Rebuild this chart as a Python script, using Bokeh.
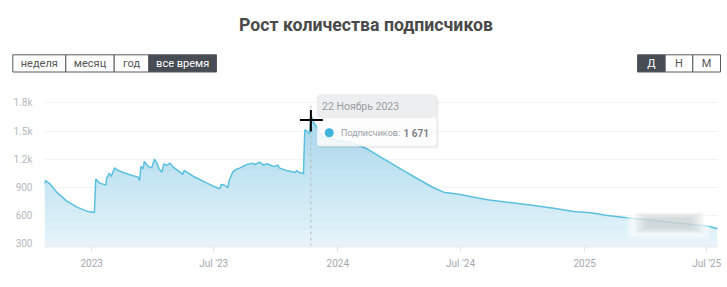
import datetime as dt
import numpy as np
from bokeh.plotting import figure
from bokeh.layouts import column
from bokeh.models import Range1d, FixedTicker, Label, BoxAnnotation
from bokeh.core.properties import value
from bokeh.embed import file_html
from bokeh.resources import INLINE

# ---------------- data ----------------
title_text = "Рост количества подписчиков"
period_buttons = ["неделя", "месяц", "год", "все время"]
period_active = "все время"
step_buttons = ["Д", "Н", "М"]
step_active = "Д"

dates = [
    "2022-10-23", "2022-10-24", "2022-10-31", "2022-11-10", "2022-11-25", "2022-12-10", "2022-12-25",
    "2023-01-05", "2023-01-07", "2023-01-13", "2023-01-22", "2023-01-23", "2023-01-27", "2023-01-30",
    "2023-02-04", "2023-02-07", "2023-02-17", "2023-03-01", "2023-03-11", "2023-03-13", "2023-03-15",
    "2023-03-18", "2023-03-20", "2023-03-26", "2023-03-31", "2023-04-04", "2023-04-07", "2023-04-11",
    "2023-04-15", "2023-04-18", "2023-04-22", "2023-04-27", "2023-05-02", "2023-05-10", "2023-05-16",
    "2023-05-18", "2023-05-22", "2023-06-01", "2023-06-11", "2023-06-21", "2023-07-01", "2023-07-10",
    "2023-07-12", "2023-07-16", "2023-07-22", "2023-07-24", "2023-07-26", "2023-07-29", "2023-08-02",
    "2023-08-09", "2023-08-19", "2023-08-27", "2023-08-31", "2023-09-07", "2023-09-13", "2023-09-18",
    "2023-09-25", "2023-09-30", "2023-10-04", "2023-10-06", "2023-10-17", "2023-10-30", "2023-11-01",
    "2023-11-04", "2023-11-11", "2023-11-13", "2023-11-16", "2023-11-20", "2023-11-22", "2023-11-26",
    "2023-12-01", "2023-12-07", "2023-12-26", "2024-01-20", "2024-02-13", "2024-03-09", "2024-04-03",
    "2024-04-28", "2024-05-22", "2024-06-06", "2024-07-01", "2024-07-21", "2024-08-10", "2024-09-08",
    "2024-10-18", "2024-11-16", "2024-12-16", "2025-01-10", "2025-02-04", "2025-03-05", "2025-05-01",
    "2025-07-04", "2025-07-17",
]
subscribers = [
    931, 974, 938, 850, 754, 690, 647,
    633, 988, 945, 924, 991, 1052, 1016,
    1108, 1087, 1059, 1030, 1009, 974, 1123,
    1098, 1176, 1123, 1108, 1200, 1169, 1098,
    1062, 1151, 1133, 1158, 1115, 1073, 1038,
    1080, 1062, 1016, 981, 945, 910, 885,
    931, 928, 896, 981, 1009, 1062, 1087,
    1108, 1144, 1158, 1144, 1169, 1137, 1151,
    1130, 1123, 1140, 1108, 1080, 1059, 1080,
    1062, 1045, 1513, 1499, 1470, 1671, 1590,
    1540, 1450, 1407, 1381, 1311, 1204, 1098,
    992, 896, 849, 824, 796, 768, 743,
    708, 679, 644, 630, 601, 577, 535,
    487, 460,
]
hover_date = "2023-11-22"
hover_series_name = "Подписчиков:"
months_ru = ["Январь", "Февраль", "Март", "Апрель", "Май", "Июнь", "Июль",
             "Август", "Сентябрь", "Октябрь", "Ноябрь", "Декабрь"]

x_tick_dates = ["2023-01-01", "2023-07-01", "2024-01-01", "2024-07-01", "2025-01-01", "2025-07-01"]
x_tick_labels = ["2023", "Jul '23", "2024", "Jul '24", "2025", "Jul '25"]
y_ticks = [300, 600, 900, 1200, 1500, 1800]
y_tick_labels = ["300", "600", "900", "1.2k", "1.5k", "1.8k"]


def ms(s):
    return (dt.datetime.fromisoformat(s) - dt.datetime(1970, 1, 1)).total_seconds() * 1000.0


# ---------------- layout constants ----------------
W = 727
H_HEAD = 90
H_CHART = 197
FL, FR, FT, FB = 44, 10, 0, 41
X0, X1 = ms("2022-10-23"), ms("2025-07-17")
Y0, Y1 = 271, 1931
FONT = "Roboto"

frame_w = W - FL - FR
frame_h = H_CHART - FT - FB


def sx(px):
    # page px -> data x (same affine map as the chart's x scale)
    return X0 + (px - FL) / frame_w * (X1 - X0)


def sy(py):
    return Y1 - (py - H_HEAD - FT) / frame_h * (Y1 - Y0)


# ---------------- header ----------------
h = figure(width=W, height=H_HEAD, x_range=Range1d(0, W), y_range=Range1d(H_HEAD, 0),
           output_backend="svg", toolbar_location=None, min_border=0,
           x_axis_location=None, y_axis_location=None)
h.frame_align = False
h.grid.visible = False
h.outline_line_color = None
h.background_fill_color = "white"
h.border_fill_color = "white"

h.text(x=[W / 2 + 2], y=[24], text=[title_text], text_font=value(FONT), text_font_size="17.7px",
       text_font_style="bold", text_color="#4a4a4a", text_align="center", text_baseline="middle")

btn_top, btn_bot = 54.3, 71.5
left_edges = [12.3, 65.3, 113.7, 148.3, 216]
right_edges = [637, 664.7, 692.3, 720]
DARK = "#474c55"


def buttons(labels, edges, active):
    lefts = edges[:-1]
    rights = edges[1:]
    fills = [DARK if l == active else "white" for l in labels]
    tcols = ["white" if l == active else "#555555" for l in labels]
    h.quad(left=lefts, right=rights, top=[btn_top] * len(labels), bottom=[btn_bot] * len(labels),
           fill_color=fills, line_color="#55595f", line_width=1)
    h.text(x=[(a + b) / 2 for a, b in zip(lefts, rights)], y=[(btn_top + btn_bot) / 2 + 0.5] * len(labels),
           text=labels, text_font=value(FONT), text_font_size="11px", text_color=tcols,
           text_align="center", text_baseline="middle")


buttons(period_buttons, left_edges, period_active)
buttons(step_buttons, right_edges, step_active)

# ---------------- chart ----------------
p = figure(width=W, height=H_CHART, x_axis_type="datetime",
           x_range=Range1d(X0, X1), y_range=Range1d(Y0, Y1),
           output_backend="svg", toolbar_location=None,
           min_border_left=FL, min_border_right=FR, min_border_top=FT, min_border_bottom=FB)
p.frame_align = False
p.outline_line_color = None
p.background_fill_color = "white"
p.border_fill_color = "white"

xs = [ms(d) for d in dates]
vals = np.array(subscribers, dtype=float)

LINE = "#5bc0de"
p.varea(x=xs, y1=[Y0] * len(xs), y2=vals, fill_color="#e6f4fa")
N = 16
for k in range(N):
    L = Y0 + (1700 - Y0) * (k + 1) / N
    p.varea(x=xs, y1=[L] * len(xs), y2=np.maximum(vals, L), fill_color=LINE, fill_alpha=0.026)
p.line(x=xs, y=vals, line_color=LINE, line_width=1.5)

# axes
p.xaxis.ticker = FixedTicker(ticks=[ms(d) for d in x_tick_dates])
p.xaxis.major_label_overrides = {ms(d): l for d, l in zip(x_tick_dates, x_tick_labels)}
p.xaxis.axis_line_color = "#eceeef"
p.xaxis.axis_line_width = 2
p.xaxis.major_tick_line_color = "#e0e2e4"
p.xaxis.major_tick_in = 0
p.xaxis.major_tick_out = 5
p.xaxis.minor_tick_line_color = None
p.xaxis.major_label_text_font = FONT
p.xaxis.major_label_text_font_size = "10px"
p.xaxis.major_label_text_color = "#a3a8ae"
p.xaxis.major_label_standoff = 6

p.yaxis.ticker = FixedTicker(ticks=y_ticks)
p.yaxis.major_label_overrides = {t: l for t, l in zip(y_ticks, y_tick_labels)}
p.yaxis.axis_line_color = None
p.yaxis.major_tick_line_color = None
p.yaxis.minor_tick_line_color = None
p.yaxis.major_label_text_font = FONT
p.yaxis.major_label_text_font_size = "10px"
p.yaxis.major_label_text_color = "#b5b9be"
p.yaxis.major_label_standoff = 6

p.xgrid.grid_line_color = None
p.ygrid.ticker = FixedTicker(ticks=y_ticks)
p.ygrid.grid_line_color = "#f2f3f4"

# hover line
hx = ms(hover_date)
hv = subscribers[dates.index(hover_date)]
p.segment(x0=[hx], y0=[Y0], x1=[hx], y1=[y_ticks[-1]], line_color="#b8bcc0",
          line_dash="3 3", line_width=1)

# blurred watermark blob (soft edges)
for i in range(5):
    p.quad(left=[sx(626 + i * 1.5)], right=[sx(710 - i * 1.5)], top=[sy(206 + i * 1.2)],
           bottom=[sy(238 - i * 1.2)], fill_color="white", fill_alpha=0.22, line_color=None)
for i in range(7):
    p.quad(left=[sx(634 + i * 2.2)], right=[sx(704 - i * 2.2)], top=[sy(212 + i * 0.9)],
           bottom=[sy(233 - i * 0.9)], fill_color="#aab3b8", fill_alpha=0.08, line_color=None)

# tooltip
tl, tr, tt, tb, tsep = 316.7, 436, 94.3, 145.7, 117.3
p.add_layout(BoxAnnotation(left=sx(tl + 1), right=sx(tr + 2), top=sy(tt + 2), bottom=sy(tb + 2),
                           fill_color="black", fill_alpha=0.07, line_color=None, border_radius=3))
p.add_layout(BoxAnnotation(left=sx(tl), right=sx(tr), top=sy(tt), bottom=sy(tb),
                           fill_color="white", fill_alpha=0.85, line_color="#e4e6e8",
                           line_width=1, border_radius=3))
p.add_layout(BoxAnnotation(left=sx(tl), right=sx(tr), top=sy(tt), bottom=sy(tsep),
                           fill_color="#eceeef", fill_alpha=1.0, line_color="#e4e6e8",
                           line_width=1, border_radius=3))
hd = dt.date.fromisoformat(hover_date)
date_text = f"{hd.day} {months_ru[hd.month - 1]} {hd.year}"
p.add_layout(Label(x=sx(321.5), y=sy(105.5), text=date_text, text_font=FONT, text_font_size="10.5px",
                   text_color="#9a9ea3", text_baseline="middle", text_align="left"))
p.scatter(x=[sx(328.7)], y=[sy(132.3)], size=9, fill_color="#3db5dc", line_color=None, level="overlay")
p.add_layout(Label(x=sx(340.5), y=sy(132.8), text=hover_series_name, text_font=FONT,
                   text_font_size="9px", text_color="#9a9ea3", text_baseline="middle", text_align="left"))
value_text = f"{hv:,}".replace(",", " ")
p.add_layout(Label(x=sx(428.5), y=sy(132.8), text=value_text, text_font=FONT, text_font_size="10px",
                   text_font_style="bold", text_color="#7d8187", text_baseline="middle", text_align="right"))

# mouse cursor cross
cx = FL + (hx - X0) / (X1 - X0) * frame_w
p.segment(x0=[sx(cx - 11), sx(cx)], y0=[sy(119.5), sy(109.5)],
          x1=[sx(cx + 12), sx(cx)], y1=[sy(119.5), sy(131)],
          line_color="black", line_width=2, level="overlay")

layout = column(h, p, spacing=0)
open("out.html", "w").write(file_html(layout, INLINE))
